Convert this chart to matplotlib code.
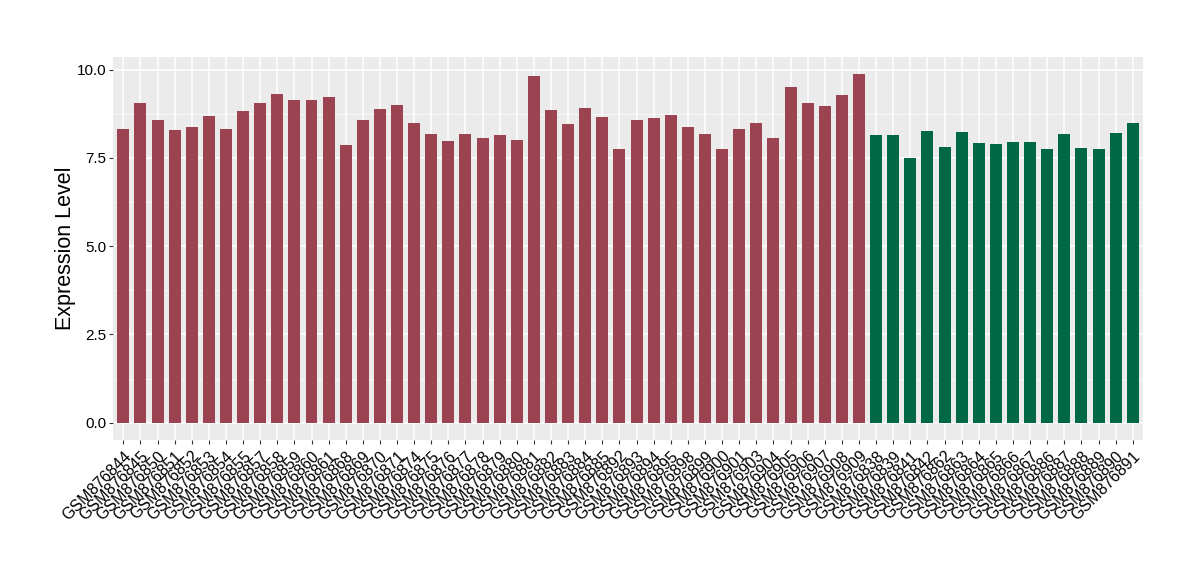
import matplotlib.pyplot as plt
import numpy as np

plt.rcParams['font.family'] = ['Liberation Sans', 'DejaVu Sans']

# samples, group 1 (red) then group 2 (green)
red_ids = ["844", "845", "850", "851", "852", "853", "854", "855", "857", "858",
           "859", "860", "861", "868", "869", "870", "871", "874", "875", "876",
           "877", "878", "879", "880", "881", "882", "883", "884", "885", "892",
           "893", "894", "895", "898", "899", "900", "901", "903", "904", "905",
           "906", "907", "908", "909"]
red_vals = [8.31, 9.05, 8.57, 8.28, 8.37, 8.68, 8.31, 8.82, 9.05, 9.30,
            9.13, 9.13, 9.22, 7.86, 8.57, 8.88, 8.99, 8.48, 8.17, 7.97,
            8.17, 8.06, 8.14, 8.00, 9.82, 8.85, 8.45, 8.91, 8.65, 7.75,
            8.57, 8.62, 8.71, 8.37, 8.17, 7.75, 8.31, 8.48, 8.06, 9.50,
            9.05, 8.96, 9.27, 9.87]
green_ids = ["838", "839", "841", "842", "862", "863", "864", "865", "866", "867",
             "886", "887", "888", "889", "890", "891"]
green_vals = [8.14, 8.14, 7.49, 8.25, 7.80, 8.23, 7.92, 7.89, 7.94, 7.94,
              7.75, 8.17, 7.77, 7.75, 8.20, 8.48]

labels = ["GSM876" + s for s in red_ids + green_ids]
vals = red_vals + green_vals
colors = ["#9B4350"] * len(red_vals) + ["#006845"] * len(green_vals)
x = np.arange(len(vals))

fig = plt.figure(figsize=(12, 5.8), dpi=100)
ax = fig.add_axes([0.0942, 0.2414, 0.8583, 0.6603])
ax.set_facecolor("#EBEBEB")

ax.bar(x, vals, width=0.7, color=colors, zorder=3)

ax.set_xlim(-0.6, len(vals) - 0.4)
ax.set_ylim(-0.49, 10.36)
ax.set_yticks([0, 2.5, 5, 7.5, 10])
ax.set_yticklabels(["0.0", "2.5", "5.0", "7.5", "10.0"])
ax.set_yticks([1.25, 3.75, 6.25, 8.75], minor=True)
ax.set_xticks(x)
ax.set_xticklabels(labels, rotation=45, ha="right", va="top",
                   rotation_mode="anchor", fontsize=11.5)

ax.grid(True, which="major", color="white", linewidth=1.1, zorder=0)
ax.grid(True, which="minor", axis="y", color="white", linewidth=0.5, zorder=0)
ax.tick_params(axis="both", which="major", color="#333333", length=3,
               labelcolor="black")
ax.tick_params(axis="y", labelsize=11, pad=2)
ax.tick_params(axis="y", which="minor", length=0)
ax.tick_params(axis="x", pad=3)
for s in ax.spines.values():
    s.set_visible(False)

ax.set_ylabel("Expression Level", fontsize=15.5, labelpad=0)

fig.savefig("out.png", dpi=100)
